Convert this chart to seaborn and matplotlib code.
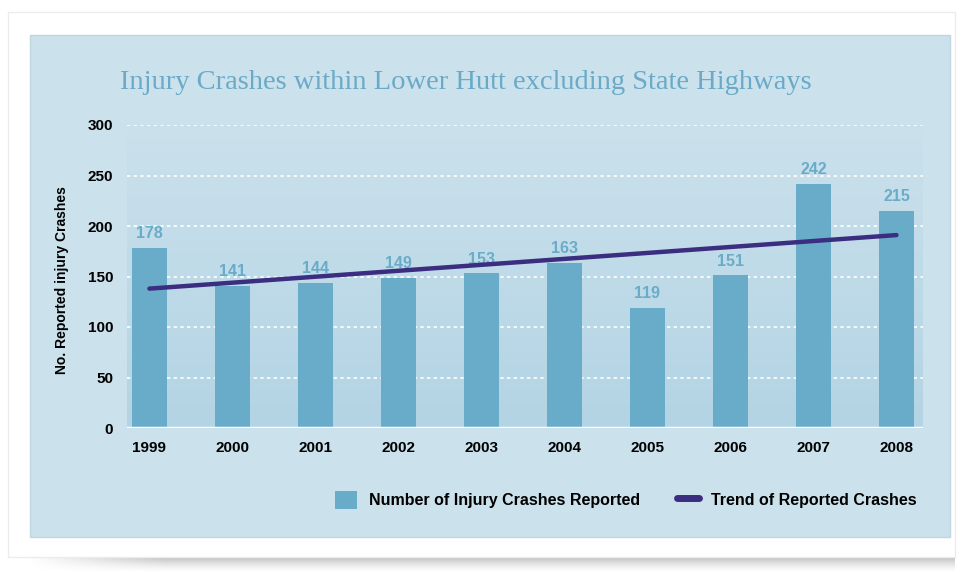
import numpy as np
import pandas as pd
import matplotlib
matplotlib.use("Agg")
import matplotlib.pyplot as plt
from matplotlib.patches import Rectangle, Patch
from matplotlib.lines import Line2D
import seaborn as sns

# ---- data ----
years = ["1999", "2000", "2001", "2002", "2003", "2004", "2005", "2006", "2007", "2008"]
crashes = [178, 141, 144, 149, 153, 163, 119, 151, 242, 215]
trend_years = ["1999", "2008"]
trend_values = [138, 191]
y_ticks = [0, 50, 100, 150, 200, 250, 300]

title = "Injury Crashes within Lower Hutt excluding State Highways"
y_label = "No. Reported injury Crashes"
bar_name = "Number of Injury Crashes Reported"
trend_name = "Trend of Reported Crashes"

# ---- style ----
sns.set_style("white")
plt.rcParams["font.family"] = ["Liberation Sans", "DejaVu Sans"]
plt.rcParams["text.color"] = "black"
plt.rcParams["xtick.color"] = "black"
plt.rcParams["ytick.color"] = "black"

BAR = "#69acc9"
TREND = "#3b2d80"
PANEL = "#cbe1ec"
PLOT_BOTTOM = "#b3d4e4"
TITLE_C = "#6aaac8"

W, H, DPI = 962, 573, 100
fig = plt.figure(figsize=(W / DPI, H / DPI), dpi=DPI, facecolor="white")

# background layer in pixel coordinates
bg = fig.add_axes([0, 0, 1, 1], zorder=-10)
bg.set_xlim(0, W)
bg.set_ylim(H, 0)
bg.axis("off")

# soft shadow below the card
sh = np.linspace(0, 1, 40)[:, None] * np.ones((1, 200))
fade_x = np.clip(np.minimum(np.linspace(0, 1, 200) / 0.15, 1), 0, 1)
alpha = (1 - sh) ** 1.5 * fade_x[None, :] * 0.55
shadow = np.zeros((40, 200, 4))
shadow[..., :3] = 0.35
shadow[..., 3] = alpha
bg.imshow(shadow, extent=[25, 955, 573, 553], aspect="auto", zorder=1, interpolation="bilinear")

bg.add_patch(Rectangle((8, 12), 947, 545, facecolor="white", edgecolor="#ececec", lw=1, zorder=2))
bg.add_patch(Rectangle((30, 35), 920, 502, facecolor=PANEL, edgecolor="#bfd5e0", lw=1, zorder=3))

bg.text(466, 89, title, ha="center", va="baseline", color=TITLE_C,
        fontsize=20.5, family=["Liberation Serif", "DejaVu Serif"], zorder=4)
bg.text(62, 280, y_label, ha="center", va="center", rotation=90,
        fontsize=10, fontweight="bold", color="black", zorder=4)

# ---- main chart ----
ax = fig.add_axes([127 / W, (H - 428) / H, (923 - 127) / W, (428 - 125) / H], zorder=1)
ax.patch.set_alpha(0)

df = pd.DataFrame({"year": years, "crashes": crashes})
sns.barplot(data=df, x="year", y="crashes", color=BAR, saturation=1, width=0.42,
            linewidth=0, edgecolor="none", ax=ax, zorder=3)

# vertical gradient behind the bars
top = np.array(matplotlib.colors.to_rgb(PANEL))
bot = np.array(matplotlib.colors.to_rgb(PLOT_BOTTOM))
t = np.linspace(0, 1, 256)[:, None]
grad = (top[None, :] * (1 - t) + bot[None, :] * t)[:, None, :]
ax.imshow(grad, extent=[-0.27, 9.32, 0, 300], aspect="auto", zorder=0, origin="upper")
ax.set_xlim(-0.27, 9.32)
ax.set_ylim(0, 300)

for v in y_ticks[1:]:
    ax.axhline(v, color="white", lw=1.2, ls=(0, (2, 2)), zorder=1)
ax.axhline(0, color="white", lw=2.5, zorder=4)

for c in ax.containers:
    ax.bar_label(c, labels=[str(v) for v in crashes], padding=5, color=BAR,
                 fontsize=11.5, fontweight="bold")

tx = [years.index(y) for y in trend_years]
ax.plot(tx, trend_values, color=TREND, lw=3.2, solid_capstyle="round", zorder=5)

ax.set_yticks(y_ticks)
ax.set_yticklabels([str(v) for v in y_ticks])
ax.tick_params(axis="both", length=0, labelsize=11, labelcolor="black")
ax.tick_params(axis="y", pad=10)
ax.tick_params(axis="x", pad=9)
for lab in ax.get_xticklabels() + ax.get_yticklabels():
    lab.set_fontweight("bold")
ax.set_xlabel("")
ax.set_ylabel("")
sns.despine(ax=ax, left=True, bottom=True)

handles = [Patch(facecolor=BAR, edgecolor="none", label=bar_name),
           Line2D([0], [0], color=TREND, lw=5, solid_capstyle="round", label=trend_name)]
leg = fig.legend(handles=handles, loc="center", bbox_to_anchor=(626 / W, (H - 500) / H),
                 ncol=2, frameon=False, handlelength=1.4, handleheight=1.4,
                 handletextpad=0.75, columnspacing=2.3, prop={"size": 11.5, "weight": "bold"})
for txt in leg.get_texts():
    txt.set_color("black")

fig.savefig("out.png", dpi=DPI, facecolor="white")
